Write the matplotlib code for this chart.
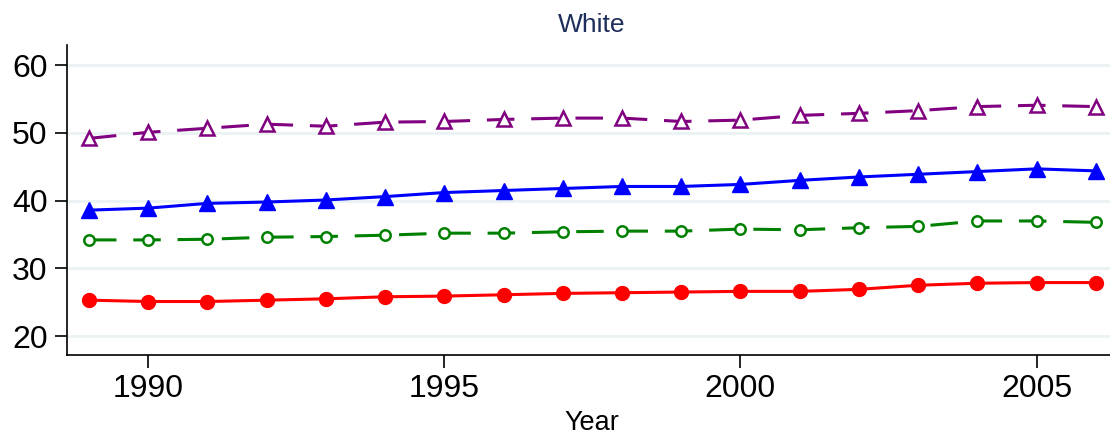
import matplotlib
matplotlib.use("Agg")
import matplotlib.pyplot as plt

plt.rcParams['font.family'] = ['Liberation Sans', 'DejaVu Sans']

years = list(range(1989, 2007))
purple_vals = [49.2, 50.1, 50.7, 51.3, 51.0, 51.6, 51.7, 52.0, 52.2, 52.2, 51.7, 51.9, 52.6, 52.9, 53.3, 53.9, 54.1, 53.9]
blue_vals = [38.6, 38.9, 39.6, 39.8, 40.1, 40.6, 41.2, 41.5, 41.8, 42.1, 42.1, 42.4, 43.0, 43.5, 43.9, 44.3, 44.7, 44.4]
green_vals = [34.2, 34.2, 34.3, 34.6, 34.7, 34.9, 35.2, 35.2, 35.4, 35.5, 35.5, 35.8, 35.7, 36.0, 36.2, 37.0, 37.0, 36.8]
red_vals = [25.3, 25.1, 25.1, 25.3, 25.5, 25.8, 25.9, 26.1, 26.3, 26.4, 26.5, 26.6, 26.6, 26.9, 27.5, 27.8, 27.9, 27.9]
yticks = [20, 30, 40, 50, 60]
xticks = [1990, 1995, 2000, 2005]
title = "White"
xlabel = "Year"

fig = plt.figure(figsize=(11.1, 4.36), dpi=100)
ax = fig.add_axes([0.0604, 0.1858, 0.9396, 0.711])

ax.plot(years, purple_vals, color='#800080', lw=2.2, dashes=(9, 5.5),
        marker='^', ms=10, mfc='white', mec='#800080', mew=1.8)
ax.plot(years, blue_vals, color='#0000ff', lw=2.2,
        marker='^', ms=11, mfc='#0000ff', mec='#0000ff')
ax.plot(years, green_vals, color='#008000', lw=2.2, dashes=(9, 5.5),
        marker='o', ms=7.5, mfc='white', mec='#008000', mew=1.8)
ax.plot(years, red_vals, color='#ff0000', lw=2.2,
        marker='o', ms=10, mfc='#ff0000', mec='#ff0000')

ax.set_xlim(1988.63, 2006.24)
ax.set_ylim(17.2, 63.0)
ax.set_yticks(yticks)
ax.set_xticks(xticks)
ax.grid(axis='y', color='#eaf2f3', lw=2)
ax.set_axisbelow(True)
for s in ['top', 'right']:
    ax.spines[s].set_visible(False)
ax.spines['left'].set_linewidth(1.2)
ax.spines['bottom'].set_linewidth(1.2)
ax.tick_params(axis='both', direction='out', length=9, width=1.2, labelsize=23, pad=5)
ax.set_title(title, fontsize=19, color='#1f2f5c', pad=9, x=0.503)
ax.set_xlabel(xlabel, fontsize=19.5, labelpad=4)
ax.xaxis.set_label_coords(0.503, -0.178)

fig.savefig("out.png", dpi=100)
